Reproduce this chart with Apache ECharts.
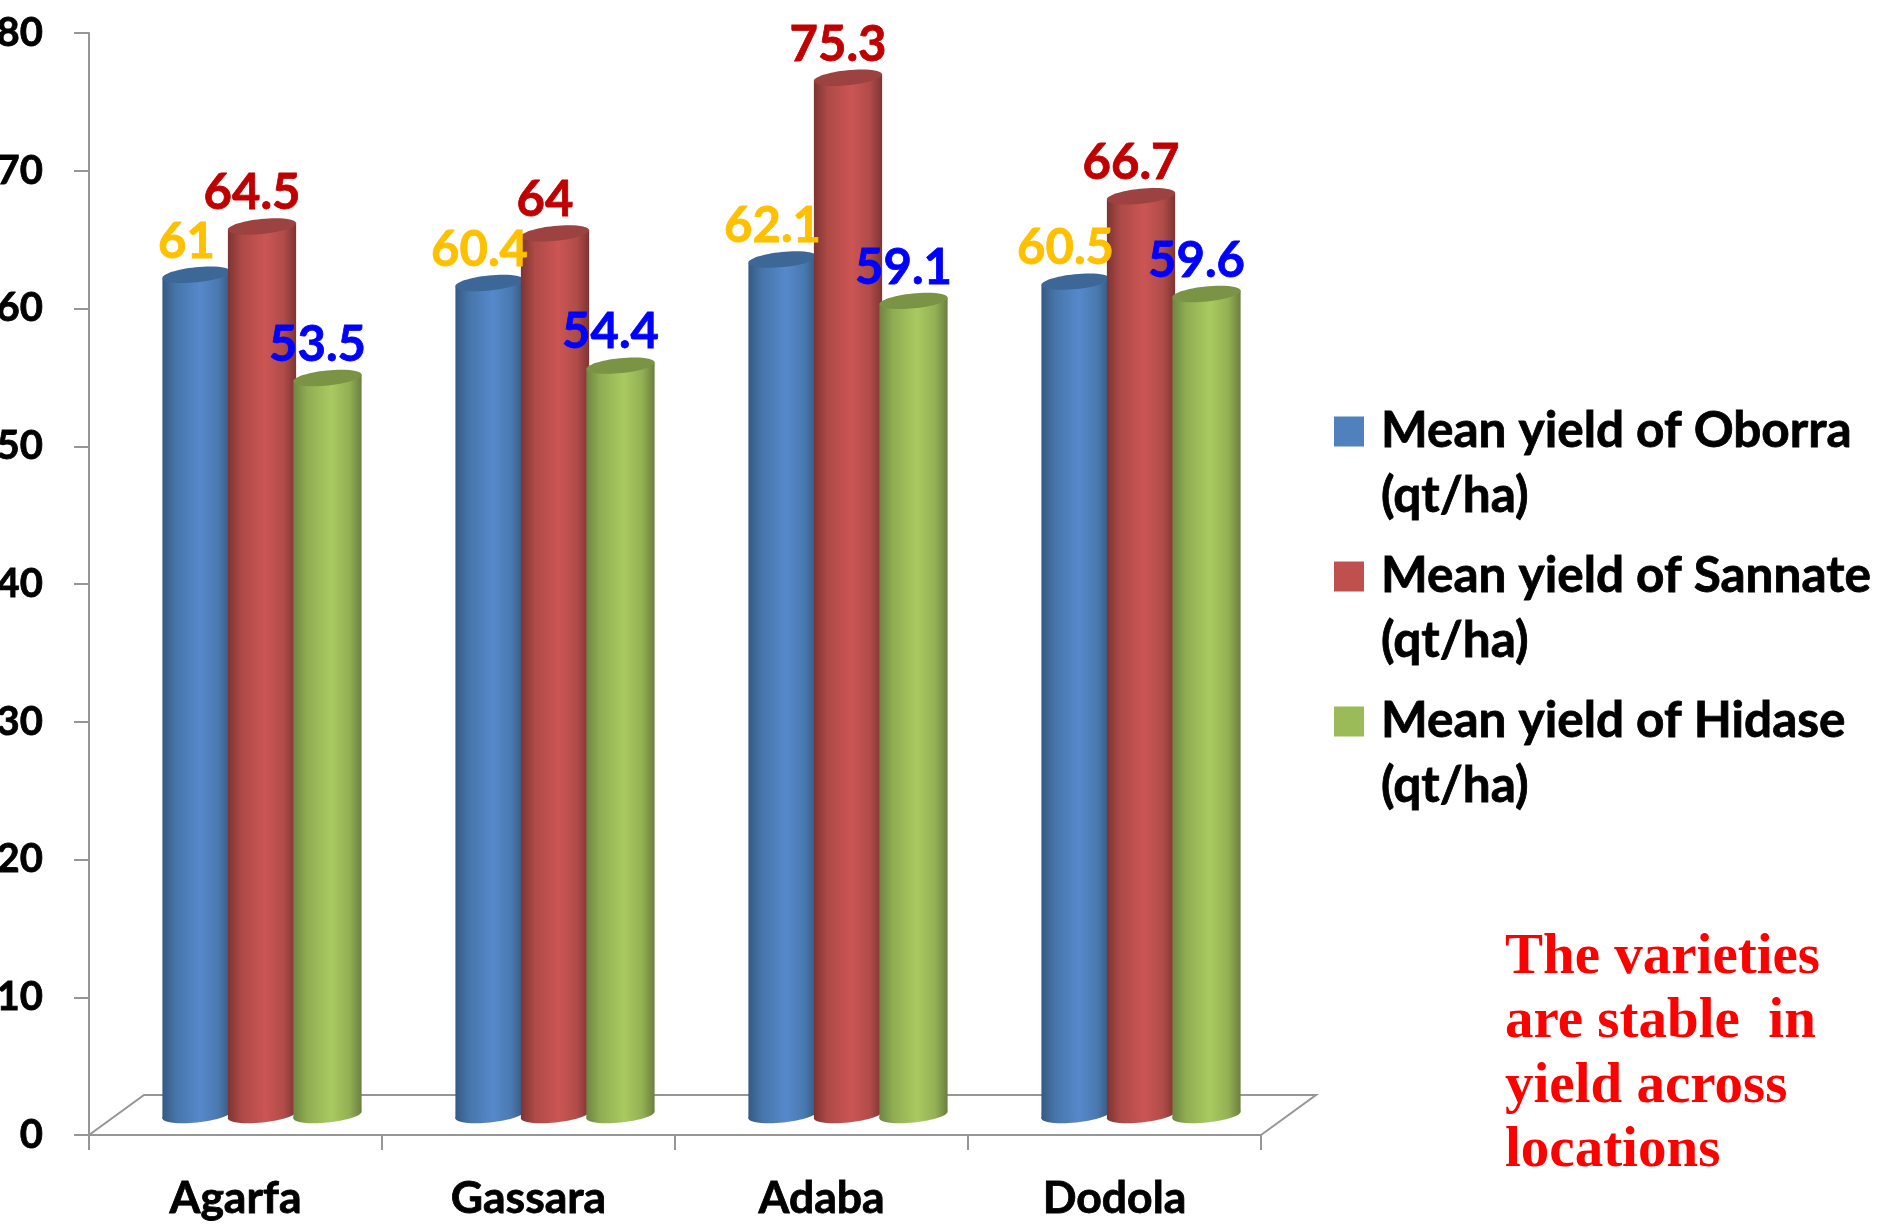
<!DOCTYPE html>
<html>
<head>
<meta charset="utf-8">
<title>Mean yield by location</title>
<script src="https://cdn.jsdelivr.net/npm/echarts@6/dist/echarts.min.js"></script>
<style>
  html, body { margin: 0; padding: 0; background: #fff; }
  #chart { width: 1883px; height: 1225px; }
</style>
</head>
<body>
<div id="chart"></div>
<script>
const locations = ['Agarfa', 'Gassara', 'Adaba', 'Dodola'];
const oborra = [61, 60.4, 62.1, 60.5];
const sannate = [64.5, 64, 75.3, 66.7];
const hidase = [53.5, 54.4, 59.1, 59.6];
const seriesNames = [
  'Mean yield of Oborra (qt/ha)',
  'Mean yield of Sannate (qt/ha)',
  'Mean yield of Hidase (qt/ha)'
];
const valueTicks = { min: 0, max: 80, interval: 10 };
const noteText = 'The varieties\nare stable  in\nyield across\nlocations';

const FONT = 'Lato, "Noto Sans", sans-serif';
const AXIS_GREY = '#969696';

// Pseudo-3D floor depth, in pixels.
const DEPTH_X = 55;
const DEPTH_Y = 40;
const TILT = 0.1;

const looks = [
  { legend: '#4f81bd', label: '#ffc000', top: '#3c6797',
    stops: ['#345a85', '#4775aa', '#5689cb', '#4a79b0', '#35597f'] },
  { legend: '#c0504d', label: '#c00000', top: '#9c4240',
    stops: ['#7d3432', '#ad4a47', '#cc5553', '#b04c49', '#7f3432'] },
  { legend: '#9bbb59', label: '#0000ff', top: '#7a9344',
    stops: ['#6f8542', '#8fad52', '#a9ca60', '#93b054', '#6b7f3e'] }
];

function cylinderRenderer(seriesIndex) {
  const look = looks[seriesIndex];
  return function (params, api) {
    const idx = api.value(0);
    const value = api.value(1);
    const band = api.size([1, 0])[0];
    const step = band * 0.2235;
    const rx = band * 0.117;
    const ry = 7.5;
    const base = api.coord([idx, 0]);
    const tip = api.coord([idx, value]);
    const cx = base[0] + DEPTH_X / 2 - 1 + (seriesIndex - 1) * step;
    const yBottom = base[1] - DEPTH_Y / 2;
    const yTop = tip[1] - DEPTH_Y / 2;
    const dx = rx * Math.cos(TILT);
    const dy = rx * Math.sin(TILT);
    const fill = new echarts.graphic.LinearGradient(0, 0, 1, 0, [
      { offset: 0, color: look.stops[0] },
      { offset: 0.2, color: look.stops[1] },
      { offset: 0.55, color: look.stops[2] },
      { offset: 0.82, color: look.stops[3] },
      { offset: 1, color: look.stops[4] }
    ]);
    return {
      type: 'group',
      children: [
        {
          type: 'ellipse', x: cx, y: yBottom, rotation: TILT,
          shape: { cx: 0, cy: 0, rx: rx, ry: ry },
          style: { fill: fill }
        },
        {
          type: 'polygon',
          shape: { points: [
            [cx - dx, yTop + dy], [cx + dx, yTop - dy],
            [cx + dx, yBottom - dy], [cx - dx, yBottom + dy]
          ] },
          style: { fill: fill }
        },
        {
          type: 'ellipse', x: cx, y: yTop, rotation: TILT,
          shape: { cx: 0, cy: 0, rx: rx, ry: ry },
          style: { fill: look.top }
        },
        {
          type: 'text', z2: 100,
          x: cx - 10, y: yTop - 33,
          style: {
            text: String(value), fill: look.label,
            stroke: look.label, lineWidth: 0.8,
            font: 'bold 49px ' + FONT,
            align: 'center', verticalAlign: 'middle'
          }
        }
      ]
    };
  };
}

// Floor outline behind the columns, tied to the plot rectangle.
function floorRenderer(params) {
  const r = params.coordSys;
  const bottom = r.y + r.height;
  const right = r.x + r.width;
  return {
    type: 'polyline',
    shape: { points: [
      [r.x, bottom], [r.x + DEPTH_X, bottom - DEPTH_Y],
      [right + DEPTH_X, bottom - DEPTH_Y], [right, bottom]
    ] },
    style: { fill: null, stroke: AXIS_GREY, lineWidth: 2 }
  };
}

const valueSets = [oborra, sannate, hidase];
const cylinderSeries = seriesNames.map(function (name, i) {
  return {
    type: 'custom',
    name: name,
    coordinateSystem: 'cartesian2d',
    renderItem: cylinderRenderer(i),
    encode: { x: 0, y: 1 },
    itemStyle: { color: looks[i].legend },
    clip: false,
    silent: true,
    data: valueSets[i].map(function (v, k) { return [k, v]; })
  };
});

// Each entry has a leading blank line so the swatch sits beside the first text line.
const legends = seriesNames.map(function (name, i) {
  return {
    data: [{ name: name, icon: 'rect', itemStyle: { color: looks[i].legend } }],
    orient: 'vertical',
    left: 1334,
    top: 334 + i * 145,
    padding: 0,
    itemWidth: 30,
    itemHeight: 30,
    itemGap: 0,
    selectedMode: false,
    formatter: function (n) {
      return '\u00a0\n\u00a0' + n.replace(' (', '\n\u00a0(');
    },
    textStyle: {
      color: '#000', fontFamily: FONT, fontWeight: 'bold',
      fontSize: 49.5, lineHeight: 65,
      textBorderColor: '#000', textBorderWidth: 0.8
    }
  };
});

const chart = echarts.init(document.getElementById('chart'), null, { renderer: 'canvas' });
chart.setOption({
  animation: false,
  backgroundColor: '#ffffff',
  title: {
    text: noteText,
    left: 1505,
    top: 926,
    padding: 0,
    textStyle: {
      color: '#ff0000', fontFamily: '"Liberation Serif", serif',
      fontWeight: 'bold', fontSize: 57, lineHeight: 64.5
    }
  },
  legend: legends,
  grid: { left: 89, top: 33, width: 1172, height: 1102, outerBoundsMode: 'none' },
  xAxis: {
    type: 'category',
    data: locations,
    axisLine: { lineStyle: { color: AXIS_GREY, width: 2 } },
    axisTick: { show: true, length: 15, lineStyle: { color: AXIS_GREY, width: 2 } },
    axisLabel: {
      color: '#000', fontFamily: FONT, fontWeight: 'bold', fontSize: 44.5, margin: 41,
      textBorderColor: '#000', textBorderWidth: 0.8
    }
  },
  yAxis: {
    type: 'value',
    min: valueTicks.min,
    max: valueTicks.max,
    interval: valueTicks.interval,
    splitLine: { show: false },
    axisLine: { show: true, lineStyle: { color: AXIS_GREY, width: 2 } },
    axisTick: { show: true, length: 15, lineStyle: { color: AXIS_GREY, width: 2 } },
    axisLabel: {
      color: '#000', fontFamily: FONT, fontWeight: 'bold', fontSize: 40, margin: 46,
      textBorderColor: '#000', textBorderWidth: 0.8
    }
  },
  series: [{
    type: 'custom',
    name: 'floor',
    coordinateSystem: 'cartesian2d',
    renderItem: floorRenderer,
    encode: { x: 0, y: 1 },
    silent: true,
    clip: false,
    data: [[0, 0]]
  }].concat(cylinderSeries)
});
</script>
</body>
</html>
